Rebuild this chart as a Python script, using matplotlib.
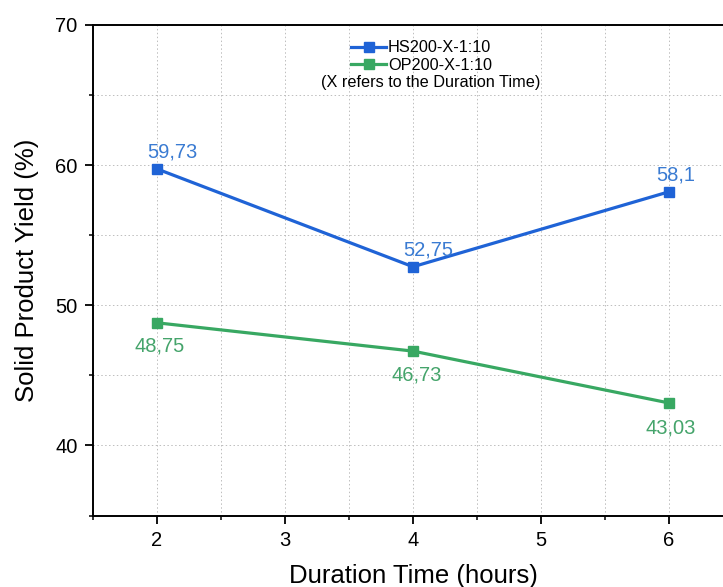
import matplotlib

matplotlib.use("Agg")
import matplotlib.pyplot as plt
from matplotlib.ticker import MultipleLocator

hours = [2, 4, 6]
hs_yield = [59.73, 52.75, 58.1]
op_yield = [48.75, 46.73, 43.03]
hs_labels = ["59,73", "52,75", "58,1"]
op_labels = ["48,75", "46,73", "43,03"]
series_names = ["HS200-X-1:10", "OP200-X-1:10"]
note = "(X refers to the Duration Time)"

plt.rcParams["font.family"] = ["Liberation Sans", "DejaVu Sans"]

BLUE, BLUE_TXT = "#1f63d6", "#3a7bd2"
GREEN, GREEN_TXT = "#38a862", "#45a46b"

fig = plt.figure(figsize=(7.23, 5.87), dpi=100)
ax = fig.add_axes([93 / 723, 71.5 / 587, 640 / 723, 490.5 / 587])

ax.plot(hours, hs_yield, "-s", color=BLUE, lw=2.3, ms=7, label=series_names[0], zorder=3)
ax.plot(hours, op_yield, "-s", color=GREEN, lw=2.3, ms=7, label=series_names[1], zorder=3)

# value labels: blue ones sit above the points, green ones below
hs_offsets = [(11, 12), (11, 12), (5, 12)]
op_offsets = [(2, -17), (3, -17), (1, -18)]
for x, y, text, off in zip(hours, hs_yield, hs_labels, hs_offsets):
    ax.annotate(text, (x, y), xytext=off, textcoords="offset points",
                ha="center", va="center", fontsize=14.5, color=BLUE_TXT)
for x, y, text, off in zip(hours, op_yield, op_labels, op_offsets):
    ax.annotate(text, (x, y), xytext=off, textcoords="offset points",
                ha="center", va="center", fontsize=14.5, color=GREEN_TXT)

ax.set_xlim(1.5, 6.5)
ax.set_ylim(35, 70)
ax.xaxis.set_major_locator(MultipleLocator(1))
ax.xaxis.set_minor_locator(MultipleLocator(0.5))
ax.yaxis.set_major_locator(MultipleLocator(10))
ax.yaxis.set_minor_locator(MultipleLocator(5))
ax.tick_params(which="major", direction="out", length=6, width=1.3, labelsize=14.5, pad=5)
ax.tick_params(which="minor", direction="out", length=3, width=1.1)
ax.grid(which="both", linestyle=(0, (1.5, 2.5)), color="#bdbdbd", lw=0.7)
for side in ("left", "bottom", "top", "right"):
    ax.spines[side].set_linewidth(1.4)

ax.set_xlabel("Duration Time (hours)", fontsize=18.5, labelpad=10)
ax.set_ylabel("Solid Product Yield (%)", fontsize=18.5, labelpad=12)

ax.legend(loc="upper center", bbox_to_anchor=(0.513, 0.995), frameon=False, fontsize=11.7,
          handlelength=2.2, handletextpad=0.1, labelspacing=0.15, borderaxespad=0.4)
ax.text(0.527, 0.883, note, transform=ax.transAxes, ha="center", va="center", fontsize=11.7)

fig.savefig("out.png", dpi=100)
